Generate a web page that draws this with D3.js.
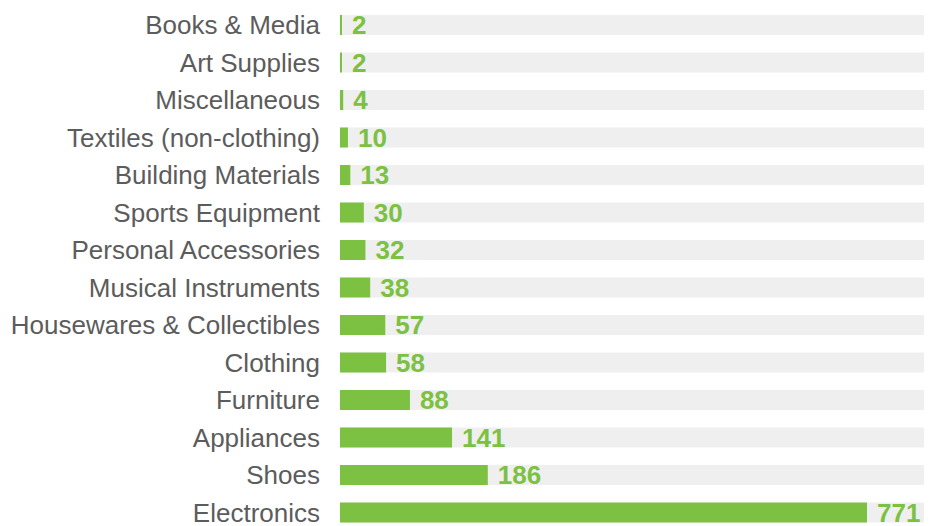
<!DOCTYPE html>
<html>
  <head>
    <meta charset="utf-8">
    <style>
      body { margin: 0; padding: 0; background: #fff; }
      svg { display: block; font-family: 'Liberation Sans', Arial, sans-serif; }
    </style>
  </head>
  <body>
    <div id="chart"></div>
    <script src="https://d3js.org/d3.v7.min.js"></script>
    <script>
      var categories = ["Books & Media", "Art Supplies", "Miscellaneous", "Textiles (non-clothing)",
                        "Building Materials", "Sports Equipment", "Personal Accessories",
                        "Musical Instruments", "Housewares & Collectibles", "Clothing",
                        "Furniture", "Appliances", "Shoes", "Electronics"];
      var values = [2, 2, 4, 10, 13, 30, 32, 38, 57, 58, 88, 141, 186, 771];

      var width = 935, height = 526,
          left = 340, right = 924;

      var svg = d3.select("#chart").append("svg")
          .attr("width", width)
          .attr("height", height);

      var y = d3.scaleBand()
          .domain(categories)
          .range([6.25, 531.25])
          .paddingInner(0.4667)
          .paddingOuter(0.2333);

      // scale runs past the biggest bars; long bars get cut so the label still fits in the track
      var x = d3.scaleLinear()
          .domain([0, 735])
          .range([left, right]);

      var green = "#7cc142";
      var labelRoom = 57;

      var rows = svg.append("g").selectAll("g")
          .data(categories.map((c, i) => ({name: c, value: values[i]})))
          .enter().append("g")
            .attr("transform", d => "translate(0," + y(d.name) + ")");

      rows.append("rect")
          .attr("x", left)
          .attr("width", right - left)
          .attr("height", y.bandwidth())
          .attr("fill", "#efefef");

      var barEnd = d => Math.min(Math.max(x(d.value), left + 2), right - labelRoom);

      rows.append("rect")
          .attr("x", left)
          .attr("width", d => barEnd(d) - left)
          .attr("height", y.bandwidth())
          .attr("fill", green);

      rows.append("text")
          .attr("x", 320)
          .attr("y", y.bandwidth() / 2)
          .attr("dy", "0.36em")
          .attr("text-anchor", "end")
          .attr("fill", "#5c5c5c")
          .attr("font-size", "26px")
          .text(d => d.name);

      rows.append("text")
          .attr("x", d => barEnd(d) + 10)
          .attr("y", y.bandwidth() / 2)
          .attr("dy", "0.36em")
          .attr("fill", green)
          .attr("font-size", "26px")
          .attr("font-weight", "bold")
          .text(d => d.value);
    </script>
  </body>
</html>
